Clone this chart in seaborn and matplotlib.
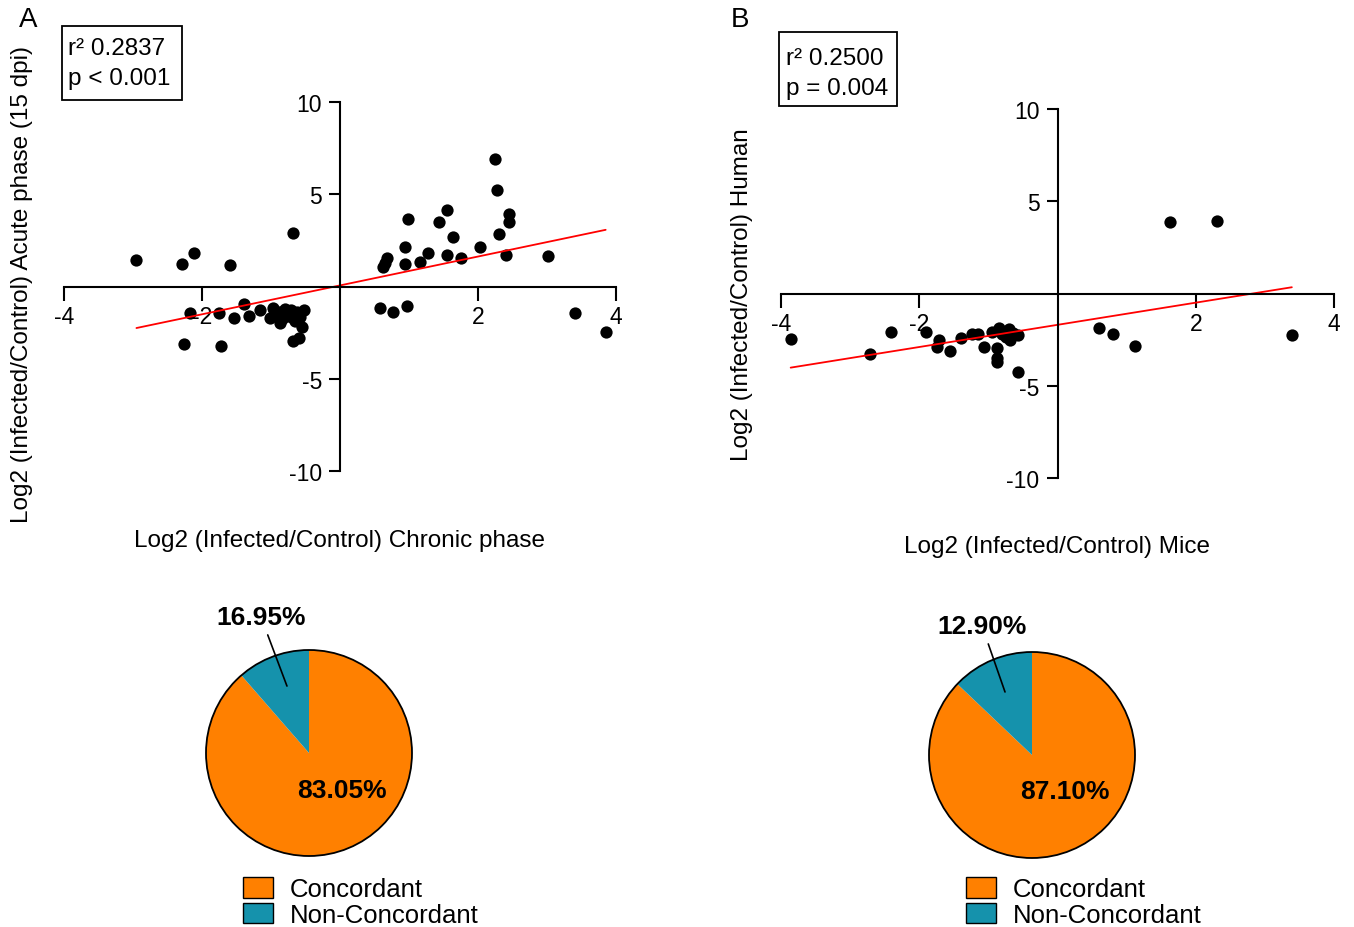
import numpy as np
import seaborn as sns
import matplotlib.pyplot as plt
from matplotlib.patches import Circle, Patch, Rectangle

# Panel A: chronic (x) vs acute (y) log2 fold changes
chronic_x = [-2.95, -2.29, -2.12, -1.60, -0.68,
             -1.39, -2.17, -1.75, -1.54, -1.32, -1.16, -0.97, -1.02, -0.87, -0.87,
             -0.71, -0.68, -0.52, -0.55, -0.68, -0.59, -2.26, -1.72, -0.77,
             -0.91, -0.80, -0.70, -0.62, -0.58, -0.95, -0.84, -0.75, -0.65,
             2.24, 2.27, 1.55, 1.44, 0.98, 2.45, 2.45, 1.64, 2.31, 0.94, 2.03,
             1.28, 1.55, 1.76, 2.40, 3.02, 0.68, 0.63, 0.65, 0.94, 1.16,
             0.58, 0.77, 0.97, 3.40, 3.85]
acute_y = [1.43, 1.21, 1.83, 1.14, 2.91,
           -0.96, -1.46, -1.46, -1.70, -1.59, -1.28, -1.14, -1.70, -1.37, -1.97,
           -1.28, -1.70, -1.28, -2.20, -2.98, -2.78, -3.09, -3.20, -1.37,
           -1.55, -1.20, -1.50, -1.40, -1.65, -1.30, -1.75, -1.60, -1.85,
           6.90, 5.22, 4.14, 3.52, 3.65, 3.94, 3.50, 2.71, 2.82, 2.13, 2.13,
           1.82, 1.70, 1.52, 1.72, 1.64, 1.52, 1.07, 1.30, 1.21, 1.32,
           -1.18, -1.39, -1.08, -1.46, -2.46]

# Panel B: mice (x) vs human (y) log2 fold changes
mice_x = [-3.86, -2.71, -2.41, -1.90, -1.72, -1.75, -1.56, -1.39, -1.23, -1.15,
          -1.06, -0.95, -0.84, -0.87, -0.87, -0.87, -0.77, -0.70, -0.69, -0.57,
          -0.57, -0.64, -0.80, -0.74, -0.65,
          1.63, 2.31,
          0.60, 0.80, 1.12, 3.39]
human_y = [-2.48, -3.27, -2.08, -2.08, -2.53, -2.89, -3.09, -2.39, -2.17, -2.17,
           -2.89, -2.08, -1.86, -2.98, -3.52, -3.70, -2.08, -1.90, -2.53, -2.26,
           -4.24, -2.26, -2.20, -2.35, -2.15,
           3.85, 3.94,
           -1.86, -2.17, -2.87, -2.26]

pie_labels = ["Concordant", "Non-Concordant"]
pie_a = [88.6, 11.4]
pie_b = [87.1, 12.9]
pie_a_text = ["83.05%", "16.95%"]
pie_b_text = ["87.10%", "12.90%"]
pie_colors = ["#FF8000", "#1592AC"]

sns.set_style("ticks")
plt.rcParams["font.family"] = ["Liberation Sans", "DejaVu Sans"]
plt.rcParams["axes.unicode_minus"] = False
for key in ["text.color", "axes.labelcolor", "xtick.color", "ytick.color", "axes.edgecolor"]:
    plt.rcParams[key] = "black"

W, H = 1354, 928
fig = plt.figure(figsize=(W / 100, H / 100), dpi=100)


def px_axes(left, top, right, bottom):
    return fig.add_axes([left / W, 1 - bottom / H, (right - left) / W, (bottom - top) / H])


def scatter_panel(ax, x, y, xlabel, ylabel, ylab_pos, xlab_y):
    sns.regplot(x=np.array(x), y=np.array(y), ax=ax, ci=None, color="black",
                scatter_kws=dict(s=78, linewidths=0, alpha=1),
                line_kws=dict(color="red", lw=1.3))
    ax.set_xlim(-4, 4)
    ax.set_ylim(-10, 10)
    for side in ["top", "right"]:
        ax.spines[side].set_visible(False)
    ax.spines["left"].set_position(("data", 0))
    ax.spines["bottom"].set_position(("data", 0))
    ax.spines["left"].set_linewidth(1.5)
    ax.spines["bottom"].set_linewidth(1.5)
    ax.set_xticks([-4, -2, 2, 4])
    ax.set_yticks([-10, -5, 5, 10])
    ax.tick_params(axis="x", length=10, width=1.5, pad=3, labelsize=16.5)
    ax.tick_params(axis="y", length=8, width=1.5, pad=5, labelsize=16.5)
    ax.set_xlabel(xlabel, fontsize=17.5)
    ax.set_ylabel(ylabel, fontsize=17.5)
    ax.xaxis.set_label_coords(0.5, xlab_y)
    ax.yaxis.set_label_coords(*ylab_pos)
    ax.xaxis.label.set_va("center")
    ax.yaxis.label.set_va("center")


def stats_box(left, top, right, bottom, text_x, text_y, text):
    fig.patches.append(Rectangle((left / W, 1 - bottom / H), (right - left) / W,
                                 (bottom - top) / H, transform=fig.transFigure,
                                 fill=False, ec="black", lw=1.3))
    fig.text(text_x / W, 1 - text_y / H, text, ha="left", va="center",
             fontsize=17.5, linespacing=1.5)


def pie_panel(ax, sizes, texts, small_xy, small_pt, big_xy):
    ax.pie(sizes, colors=pie_colors, startangle=90, counterclock=False,
           wedgeprops=dict(linewidth=0))
    ax.add_patch(Circle((0, 0), 1, fill=False, ec="black", lw=1.3, clip_on=False))
    ax.set_xlim(-1.05, 1.05)
    ax.set_ylim(-1.05, 1.05)
    ax.set_aspect("equal")
    ax.axis("off")
    ax.text(*big_xy, texts[0], ha="center", va="center", fontsize=19, fontweight="bold")
    ax.annotate(texts[1], xy=small_pt, xytext=small_xy, ha="center", va="center",
                fontsize=19, fontweight="bold", annotation_clip=False,
                arrowprops=dict(arrowstyle="-", color="black", lw=1.2, shrinkA=2, shrinkB=0))


# scatter panels
ax_a = px_axes(64, 103, 616, 472)
scatter_panel(ax_a, chronic_x, acute_y,
              "Log2 (Infected/Control) Chronic phase",
              "Log2 (Infected/Control) Acute phase (15 dpi)",
              (-0.076, 0.507), -0.187)
ax_b = px_axes(781, 110, 1334, 479)
scatter_panel(ax_b, mice_x, human_y,
              "Log2 (Infected/Control) Mice",
              "Log2 (Infected/Control) Human",
              (-0.0705, 0.499), -0.184)

# panel letters and stats boxes
fig.text(28 / W, 1 - 20 / H, "A", ha="center", va="center", fontsize=20)
fig.text(740 / W, 1 - 20 / H, "B", ha="center", va="center", fontsize=20)
stats_box(62, 27, 182, 101, 68, 64, "r² 0.2837\np < 0.001")
stats_box(779, 33, 897, 107, 786, 74, "r² 0.2500\np = 0.004")

# pies (axes widened by 5% so the outline is not clipped)
r = 103 * 1.05
ax_pa = px_axes(309 - r, 754 - r, 309 + r, 754 + r)
pie_panel(ax_pa, pie_a, pie_a_text, (-0.466, 1.320), (-0.214, 0.650), (0.32, -0.359))
ax_pb = px_axes(1032 - r, 756 - r, 1032 + r, 756 + r)
pie_panel(ax_pb, pie_b, pie_b_text, (-0.485, 1.252), (-0.262, 0.612), (0.32, -0.350))

handles = [Patch(fc=c, ec="black", lw=1.0) for c in pie_colors]
for lx in (243, 966):
    fig.legend(handles, pie_labels, loc="upper left",
               bbox_to_anchor=(lx / W, 1 - 878 / H), bbox_transform=fig.transFigure,
               frameon=False, fontsize=18.5, borderpad=0, borderaxespad=0,
               handlelength=1.17, handleheight=0.86, handletextpad=0.66,
               labelspacing=0.05)

fig.savefig("out.png", dpi=100)
